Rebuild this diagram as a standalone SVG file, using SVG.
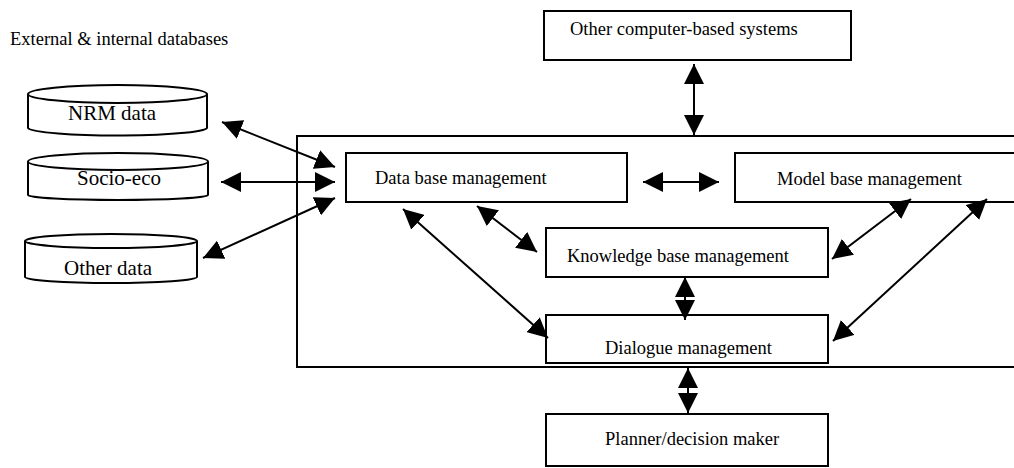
<svg xmlns="http://www.w3.org/2000/svg" width="1014" height="468" viewBox="0 0 1014 468">
<style>
.box{fill:#fff;stroke:#000;stroke-width:2}
.cyl{fill:#fff;stroke:#000;stroke-width:2}
.t{font-family:"Liberation Serif","Times New Roman",serif;font-size:18.5px;fill:#000}
.tl{font-family:"Liberation Serif","Times New Roman",serif;font-size:21px;fill:#000}
.c{stroke:#000;stroke-width:2;fill:none;marker-start:url(#ah);marker-end:url(#ah)}
</style>
<defs>
<marker id="ah" markerUnits="userSpaceOnUse" markerWidth="20" markerHeight="20" refX="20" refY="10" orient="auto-start-reverse" viewBox="0 0 20 20">
<path d="M0,0 L20,10 L0,20 z" fill="#000"/>
</marker>
</defs>
<rect width="1014" height="468" fill="#fff"/>
<text class="t" x="10" y="45">External &amp; internal databases</text>
<g id="outer"><rect class="box" x="297" y="136" width="730" height="231"/></g>
<g id="nrm">
<path class="cyl" d="M28,94 L28,128 A89.5,8 0 0 0 207,127 L207,94"/>
<ellipse class="cyl" cx="117.5" cy="94" rx="89.5" ry="9"/>
<text class="tl" x="68" y="120">NRM data</text>
</g>
<g id="socio">
<path class="cyl" d="M28,161.5 L28,195 A90,5 0 0 0 208,195 L208,161.5"/>
<ellipse class="cyl" cx="118" cy="161.5" rx="90" ry="8.5"/>
<text class="tl" x="77" y="185">Socio-eco</text>
</g>
<g id="other">
<path class="cyl" d="M25,241 L25,277 A86,6 0 0 0 197,277 L197,241"/>
<ellipse class="cyl" cx="111" cy="241" rx="86" ry="7"/>
<text class="tl" x="64" y="275">Other data</text>
</g>
<g id="ocbs"><rect class="box" x="544" y="11" width="307" height="49"/><text class="t" x="570" y="35">Other computer-based systems</text></g>
<g id="dbm"><rect class="box" x="346" y="153" width="281" height="49"/><text class="t" x="375" y="184">Data base management</text></g>
<g id="mbm"><rect class="box" x="735" y="153" width="290" height="49"/><text class="t" x="777" y="185">Model base management</text></g>
<g id="kbm"><rect class="box" x="546" y="228" width="282" height="49"/><text class="t" x="567" y="262">Knowledge base management</text></g>
<g id="dm"><rect class="box" x="546" y="315" width="282" height="48"/><text class="t" x="605" y="354">Dialogue management</text></g>
<g id="pdm"><rect class="box" x="546" y="414" width="282" height="52"/><text class="t" x="605" y="445">Planner/decision maker</text></g>
<g id="connectors">
<line class="c" x1="694" y1="64" x2="694" y2="135"/>
<line class="c" x1="222" y1="122" x2="335" y2="167"/>
<line class="c" x1="221" y1="182" x2="335" y2="182"/>
<line class="c" x1="203" y1="258" x2="335" y2="198"/>
<line class="c" x1="643" y1="182" x2="719" y2="182"/>
<line class="c" x1="477" y1="206" x2="537" y2="252"/>
<line class="c" x1="403" y1="209" x2="548" y2="338"/>
<line class="c" x1="911" y1="199" x2="832" y2="259"/>
<line class="c" x1="987" y1="199" x2="833" y2="341"/>
<line class="c" x1="685" y1="277" x2="685" y2="320"/>
<line class="c" x1="688" y1="368" x2="688" y2="413"/>
</g>
</svg>
